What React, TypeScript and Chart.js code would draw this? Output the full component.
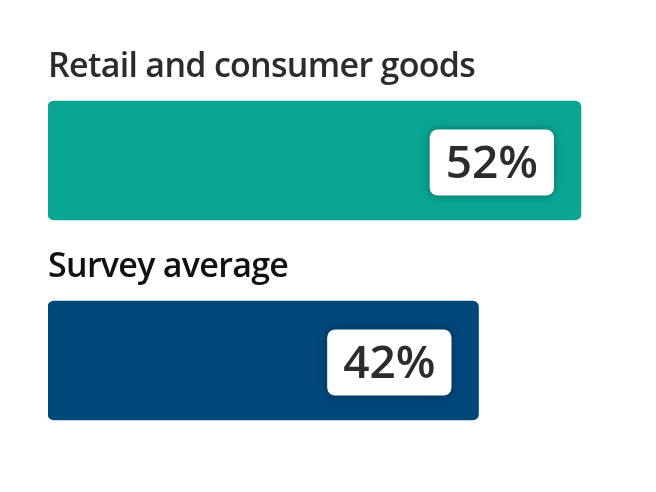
import { useEffect, useRef } from "react";
import { Chart, registerables, Plugin } from "chart.js";

Chart.register(...registerables);

const categories = ["Retail and consumer goods", "Survey average"];
const values = [52, 42];
const barColors = ["#0ba593", "#00487a"];
const titleColors = ["#2c2c2c", "#111111"];

// draws the title above each bar and the white value badge near its end
const barLabels: Plugin<"bar"> = {
  id: "barLabels",
  afterDatasetsDraw(chart) {
    const ctx = chart.ctx;
    const meta = chart.getDatasetMeta(0);
    meta.data.forEach((el: any, i) => {
      const top = el.y - el.height / 2;
      ctx.save();
      ctx.font = "600 34px 'Open Sans'";
      (ctx as any).letterSpacing = "-0.7px";
      ctx.fillStyle = titleColors[i];
      ctx.textAlign = "left";
      ctx.textBaseline = "alphabetic";
      ctx.fillText(categories[i], el.base, top - 24);
      ctx.restore();

      const text = values[i] + "%";
      ctx.save();
      ctx.font = "600 46px 'Open Sans'";
      const w = ctx.measureText(text).width + 32;
      const h = 66;
      const right = el.x - 27;
      const bx = right - w;
      const by = el.y - 31;
      ctx.shadowColor = "rgba(0,0,0,0.35)";
      ctx.shadowBlur = 8;
      ctx.fillStyle = "#ffffff";
      ctx.beginPath();
      ctx.roundRect(bx, by, w, h, 8);
      ctx.fill();
      ctx.shadowColor = "transparent";
      ctx.fillStyle = "#2c2c2c";
      ctx.textAlign = "center";
      ctx.textBaseline = "middle";
      ctx.fillText(text, bx + w / 2, by + h / 2 + 2);
      ctx.restore();
    });
  },
};

export default function App() {
  const canvasRef = useRef<HTMLCanvasElement>(null);

  useEffect(() => {
    document.body.style.margin = "0";
    if (!canvasRef.current) return;
    const chart = new Chart(canvasRef.current, {
      type: "bar",
      data: {
        labels: categories,
        datasets: [
          {
            data: values,
            backgroundColor: barColors,
            barThickness: 119,
            borderRadius: 6,
            borderSkipped: false,
          },
        ],
      },
      options: {
        indexAxis: "y",
        animation: false,
        responsive: true,
        maintainAspectRatio: false,
        layout: { padding: { left: 48, right: 13.5, top: 60.5, bottom: 31.5 } },
        scales: {
          x: { display: false, min: 0, max: 58 },
          y: { display: false },
        },
        plugins: {
          legend: { display: false },
          tooltip: { enabled: false },
        },
      },
      plugins: [barLabels],
    });
    return () => chart.destroy();
  }, []);

  return (
    <div style={{ width: 656, height: 492, background: "#fff" }}>
      <canvas ref={canvasRef}></canvas>
    </div>
  );
}
